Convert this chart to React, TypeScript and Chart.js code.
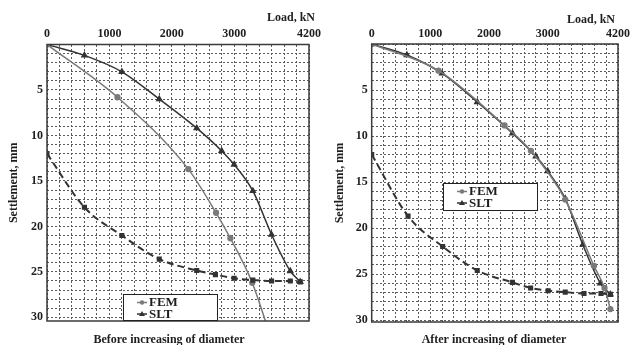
import React, { useEffect, useRef } from 'react';
import { Chart, registerables } from 'chart.js';

Chart.register(...registerables);

// Axis ticks
const xTickValues = [0, 1000, 2000, 3000, 4200];
const yTickValues = [5, 10, 15, 20, 25, 30];
const xGridStep = 200;
const yGridStep = 1;

// Left chart: Before increasing of diameter
const beforeSltLoad = [0, 600, 1200, 1800, 2400, 2800, 3000, 3300, 3600, 3900, 4060];
const beforeSltSettle = [0, 1.2, 3.0, 6.0, 9.2, 11.7, 13.2, 16.1, 20.9, 24.9, 26.1];
const beforeFemLoad = [0, 1130, 2265, 2710, 2940, 3290, 3550];
const beforeFemSettle = [0, 5.8, 13.7, 18.5, 21.3, 26.2, 31.4];
const beforeUnloadLoad = [0, 600, 1200, 1800, 2400, 2700, 3000, 3300, 3600, 3900, 4060];
const beforeUnloadSettle = [12.0, 17.9, 21.0, 23.6, 24.85, 25.3, 25.7, 25.9, 26.0, 26.0, 26.1];

// Right chart: After increasing of diameter
const afterSltLoad = [0, 600, 1200, 1800, 2400, 2800, 3000, 3300, 3600, 3900, 4070];
const afterSltSettle = [0, 1.2, 3.2, 6.3, 9.7, 12.2, 13.8, 16.8, 21.8, 26.0, 27.2];
const afterFemLoad = [0, 1140, 2265, 2715, 3300, 3790, 3970, 4070];
const afterFemSettle = [0, 2.9, 8.85, 11.6, 16.9, 24.1, 26.5, 28.8];
const afterUnloadLoad = [0, 620, 1210, 1800, 2400, 2710, 3010, 3300, 3620, 3910, 4070];
const afterUnloadSettle = [12.0, 18.7, 22.0, 24.6, 25.9, 26.5, 26.8, 26.95, 27.1, 27.1, 27.2];

const seriesNames = ['FEM', 'SLT'];
const captions = ['Before increasing of diameter', 'After increasing of diameter'];
const xTitle = 'Load, kN';
const yTitle = 'Settlement, mm';

const FONT = '"Liberation Serif", "DejaVu Serif", serif';
const TEXT = '#1e1e1e';
const FEM_COLOR = '#7a7a7a';
const SLT_COLOR = '#333333';
const GRID_COLOR = '#5a5a5a';

const pts = (xs: number[], ys: number[]) => xs.map((x, i) => ({ x, y: ys[i] }));

interface Geo {
  left: number; right: number; top: number; bottom: number;
  yMax: number;
  captionX: number;
  xTitleRight: number; xTitleY: number;
  yTitleX: number;
  legend: { x: number; y: number; w: number; h: number };
}

function makeConfig(
  fem: { x: number; y: number }[],
  slt: { x: number; y: number }[],
  unload: { x: number; y: number }[],
  caption: string,
  g: Geo
): any {
  const W = 633, H = 345;
  const decor = {
    id: 'decor',
    afterDraw(chart: any) {
      const ctx = chart.ctx;
      const a = chart.chartArea;
      ctx.save();
      // solid frame
      ctx.strokeStyle = '#3a3a3a';
      ctx.lineWidth = 1.5;
      ctx.setLineDash([]);
      ctx.strokeRect(a.left, a.top, a.right - a.left, a.bottom - a.top);
      // titles
      ctx.fillStyle = TEXT;
      ctx.font = `bold 12px ${FONT}`;
      ctx.textBaseline = 'middle';
      ctx.textAlign = 'right';
      ctx.fillText(xTitle, g.xTitleRight, g.xTitleY);
      ctx.textAlign = 'center';
      ctx.fillText(caption, g.captionX, 340);
      ctx.save();
      ctx.translate(g.yTitleX, (a.top + a.bottom) / 2);
      ctx.rotate(-Math.PI / 2);
      ctx.fillText(yTitle, 0, 0);
      ctx.restore();
      // legend
      const L = g.legend;
      ctx.fillStyle = '#ffffff';
      ctx.fillRect(L.x, L.y, L.w, L.h);
      ctx.strokeStyle = '#222';
      ctx.lineWidth = 1;
      ctx.strokeRect(L.x + 0.5, L.y + 0.5, L.w - 1, L.h - 1);
      const rows = [
        { name: seriesNames[0], color: FEM_COLOR, style: 'circle' },
        { name: seriesNames[1], color: SLT_COLOR, style: 'triangle' },
      ];
      ctx.font = `bold 13px ${FONT}`;
      ctx.textAlign = 'left';
      rows.forEach((r, i) => {
        const cy = L.y + 8.5 + i * 11.5;
        const lx = L.x + 14;
        ctx.strokeStyle = r.color;
        ctx.lineWidth = 1.5;
        ctx.beginPath();
        ctx.moveTo(lx, cy);
        ctx.lineTo(lx + 10, cy);
        ctx.stroke();
        ctx.fillStyle = r.color;
        if (r.style === 'circle') {
          ctx.beginPath();
          ctx.arc(lx + 5, cy, 2.2, 0, Math.PI * 2);
          ctx.fill();
        } else {
          ctx.beginPath();
          ctx.moveTo(lx + 5, cy - 3);
          ctx.lineTo(lx + 8, cy + 2);
          ctx.lineTo(lx + 2, cy + 2);
          ctx.closePath();
          ctx.fill();
        }
        ctx.fillStyle = TEXT;
        ctx.fillText(r.name, lx + 12, cy + 0.5);
      });
      ctx.restore();
    },
  };

  return {
    type: 'line',
    data: {
      datasets: [
        {
          label: 'Unloading',
          data: unload,
          borderColor: SLT_COLOR,
          backgroundColor: SLT_COLOR,
          borderWidth: 2,
          borderDash: [7, 4],
          pointStyle: 'rect',
          pointRadius: 2.2,
          cubicInterpolationMode: 'monotone',
        },
        {
          label: seriesNames[0],
          data: fem,
          borderColor: FEM_COLOR,
          backgroundColor: FEM_COLOR,
          borderWidth: 1.5,
          pointStyle: 'circle',
          pointRadius: 2.4,
          cubicInterpolationMode: 'monotone',
        },
        {
          label: seriesNames[1],
          data: slt,
          borderColor: SLT_COLOR,
          backgroundColor: SLT_COLOR,
          borderWidth: 1.5,
          pointStyle: 'triangle',
          pointRadius: 2.8,
          cubicInterpolationMode: 'monotone',
        },
      ],
    },
    options: {
      responsive: false,
      animation: false,
      events: [],
      layout: {
        padding: { left: 0, top: 0, right: W - g.right, bottom: H - g.bottom },
      },
      plugins: { legend: { display: false }, title: { display: false }, tooltip: { enabled: false } },
      scales: {
        x: {
          type: 'linear',
          position: 'top',
          min: 0,
          max: 4200,
          afterFit: (s: any) => { s.height = g.top; },
          afterBuildTicks: (s: any) => {
            const t = [];
            for (let v = 0; v <= 4200; v += xGridStep) t.push({ value: v });
            s.ticks = t;
          },
          ticks: {
            autoSkip: false,
            maxRotation: 0,
            padding: 3,
            color: TEXT,
            font: { family: FONT, size: 12, weight: 'bold' },
            callback: (v: number) => (xTickValues.includes(v) ? String(v) : ''),
          },
          grid: { color: GRID_COLOR, lineWidth: 1, drawTicks: false },
          border: { display: false, dash: [2, 2] },
        },
        y: {
          type: 'linear',
          reverse: true,
          min: 0,
          max: g.yMax,
          afterFit: (s: any) => { s.width = g.left; },
          afterBuildTicks: (s: any) => {
            const t = [];
            for (let v = 0; v <= 30; v += yGridStep) t.push({ value: v });
            s.ticks = t;
          },
          ticks: {
            autoSkip: false,
            padding: 4,
            color: TEXT,
            font: { family: FONT, size: 12, weight: 'bold' },
            callback: (v: number) => (yTickValues.includes(v) ? String(v) : ''),
          },
          grid: { color: GRID_COLOR, lineWidth: 1, drawTicks: false },
          border: { display: false, dash: [2, 2] },
        },
      },
    },
    plugins: [decor],
  };
}

function ChartCanvas({ config }: { config: () => any }) {
  const ref = useRef<HTMLCanvasElement | null>(null);
  useEffect(() => {
    if (!ref.current) return;
    const chart = new Chart(ref.current, config());
    return () => chart.destroy();
  }, []);
  return (
    <canvas
      ref={ref}
      width={633}
      height={345}
      style={{ position: 'absolute', left: 0, top: 0, width: 633, height: 345 }}
    />
  );
}

export default function App() {
  const leftGeo: Geo = {
    left: 47, right: 309, top: 44.5, bottom: 321, yMax: 30.4,
    captionX: 169, xTitleRight: 315, xTitleY: 18, yTitleX: 14,
    legend: { x: 123, y: 294, w: 95, h: 27 },
  };
  const rightGeo: Geo = {
    left: 371.7, right: 620.2, top: 44, bottom: 322, yMax: 30.2,
    captionX: 494, xTitleRight: 615, xTitleY: 20, yTitleX: 340,
    legend: { x: 443, y: 183, w: 95, h: 28 },
  };
  return (
    <div style={{ position: 'fixed', left: 0, top: 0, width: 633, height: 345, background: '#fff' }}>
      <ChartCanvas
        config={() =>
          makeConfig(
            pts(beforeFemLoad, beforeFemSettle),
            pts(beforeSltLoad, beforeSltSettle),
            pts(beforeUnloadLoad, beforeUnloadSettle),
            captions[0],
            leftGeo
          )
        }
      />
      <ChartCanvas
        config={() =>
          makeConfig(
            pts(afterFemLoad, afterFemSettle),
            pts(afterSltLoad, afterSltSettle),
            pts(afterUnloadLoad, afterUnloadSettle),
            captions[1],
            rightGeo
          )
        }
      />
    </div>
  );
}
